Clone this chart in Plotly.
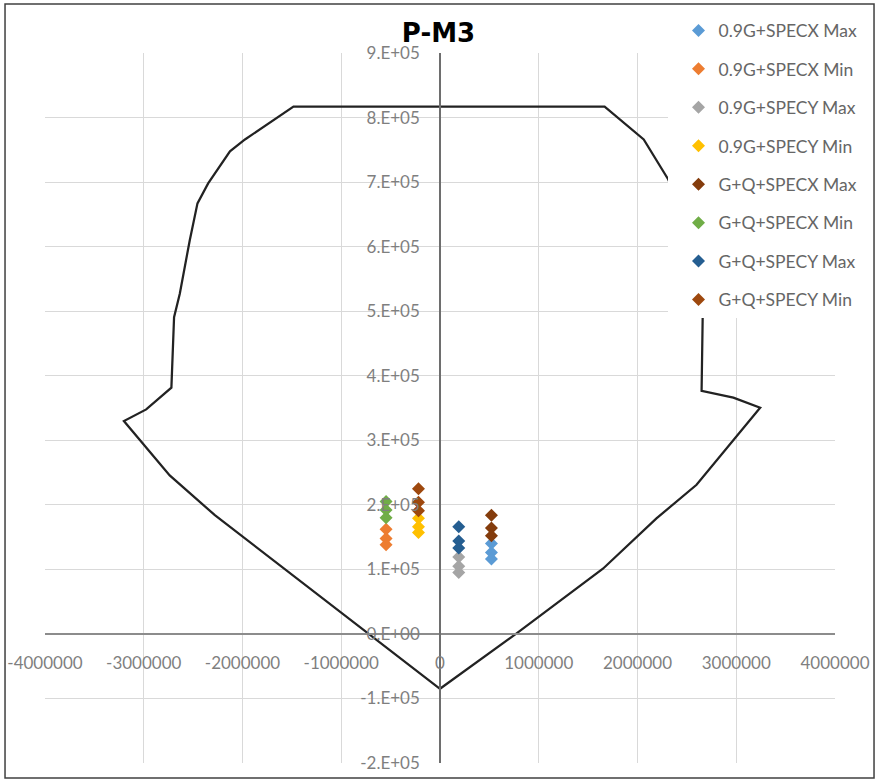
import plotly.graph_objects as go

# Interaction curve P-M3 (moment, axial)
curve_m = [0, -2280000, -2737000, -3201000, -2975000, -2720000, -2693000, -2635000,
           -2534000, -2456000, -2348000, -2127000, -1975000, -1484000, 1667000,
           2063000, 2310000, 2560000, 2660000, 2649000, 2971000, 3242000, 2598000,
           2192000, 1650000, 769000, 0]
curve_p = [-85000, 184000, 245600, 329700, 347800, 381600, 490700, 527000,
           610000, 667000, 698000, 747700, 766000, 817000, 817000,
           766000, 704500, 620000, 490700, 376500, 366000, 350500, 231000,
           179000, 101000, 0, -85000]

# load combinations (name, M3 values, P values)
combo_names = ["0.9G+SPECX Max", "0.9G+SPECX Min", "0.9G+SPECY Max", "0.9G+SPECY Min",
               "G+Q+SPECX Max", "G+Q+SPECX Min", "G+Q+SPECY Max", "G+Q+SPECY Min"]
combo_m = [
    [521000, 521000, 521000],
    [-546000, -546000, -546000],
    [190000, 190000, 190000],
    [-218000, -218000, -218000],
    [521000, 521000, 521000],
    [-546000, -546000, -546000],
    [190000, 190000, 190000],
    [-218000, -218000, -218000],
]
combo_p = [
    [140000, 126000, 116000],
    [162000, 148000, 138000],
    [119000, 105000, 95000],
    [179000, 166000, 157000],
    [184000, 164000, 152000],
    [205000, 192000, 180000],
    [166000, 144000, 133000],
    [225000, 204000, 191000],
]
combo_colors = ["#5B9BD5", "#ED7D31", "#A5A5A5", "#FFC000",
                "#843C0C", "#70AD47", "#255E91", "#9E480E"]

x_ticks = [-4000000, -3000000, -2000000, -1000000, 0, 1000000, 2000000, 3000000, 4000000]
x_text = ["-4000000", "-3000000", "-2000000", "-1000000", "0",
          "1000000", "2000000", "3000000", "4000000"]
y_ticks = [-200000, -100000, 0, 100000, 200000, 300000, 400000, 500000,
           600000, 700000, 800000, 900000]
y_text = ["-2.E+05", "-1.E+05", "0.E+00", "1.E+05", "2.E+05", "3.E+05", "4.E+05",
          "5.E+05", "6.E+05", "7.E+05", "8.E+05", "9.E+05"]

fig = go.Figure()

fig.add_trace(go.Scatter(x=curve_m, y=curve_p, mode="lines",
                         line=dict(color="#222222", width=2.25),
                         showlegend=False, hoverinfo="skip"))

for i, name in enumerate(combo_names):
    fig.add_trace(go.Scatter(
        x=combo_m[i], y=combo_p[i], mode="markers", name=name,
        legendgroup=name,
        marker=dict(symbol="diamond", size=10, color=combo_colors[i]),
    ))

fig.update_layout(
    width=877, height=782,
    margin=dict(l=45, r=42, t=53, b=19),
    paper_bgcolor="white", plot_bgcolor="white",
    font=dict(family="Lato", color="#7f7f7f"),
    title=dict(text="<b>P-M3</b>", x=0.5, xanchor="center", xref="container",
               y=1 - 33 / 782, yanchor="middle", yref="container",
               font=dict(size=26, color="#000000", family="DejaVu Sans")),
    legend=dict(x=0.788, y=1.057, xanchor="left", yanchor="top",
                bgcolor="white", traceorder="grouped", tracegroupgap=12.7,
                indentation=11,
                font=dict(size=17.5, color="#666666")),
    xaxis=dict(range=[-4000000, 4000000], tickvals=x_ticks, ticktext=x_text,
               showgrid=True, gridcolor="#D9D9D9", gridwidth=1, zeroline=False,
               showline=True, linecolor="#8c8c8c", linewidth=2,
               anchor="free", position=2 / 11, ticks="", ticklabelstandoff=14,
               tickfont=dict(size=17, color="#7f7f7f"), automargin=False),
    yaxis=dict(range=[-200000, 900000], tickvals=y_ticks, ticktext=y_text,
               showgrid=True, gridcolor="#D9D9D9", gridwidth=1, zeroline=False,
               showline=True, linecolor="#6e6e6e", linewidth=1.5,
               anchor="free", position=0.5, ticks="", ticklabelstandoff=16,
               tickfont=dict(size=17, color="#7f7f7f"), automargin=False),
    shapes=[dict(type="rect", xref="paper", yref="paper",
                 x0=-0.0506, x1=1.0494, y0=-0.0211, y1=1.0689,
                 line=dict(color="#404040", width=1.5), layer="above")],
)

fig.write_html("out.html", config={"displayModeBar": False},
               post_script="document.body.style.margin='0';")
